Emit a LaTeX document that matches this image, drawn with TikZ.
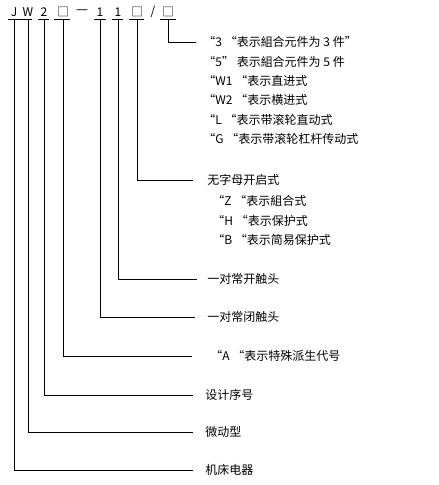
\documentclass[tikz,border=0pt]{standalone}
\usepackage{fontspec}
\setmainfont{Noto Sans CJK SC}
\newfontfamily\dashfont{DejaVu Sans}
\usepackage{tikz}
\tikzset{
	code/.style = {inner sep=0pt, font=\fontsize{12}{14}\selectfont},
	note/.style = {anchor=west, inner sep=0pt, font=\fontsize{12}{14}\selectfont},
}

\begin{document}
\begin{tikzpicture}[x=1pt, y=-1pt, line width=0.8pt]
		\useasboundingbox (0,0) rectangle (439,485);
		% code letters
		\node[code] (J) at (14,12) {J};
		\node[code] (W) at (28,12) {W};
		\node[code] (n2) at (44,12) {2};
		\node[code] (b1) at (63,12) {□};
		\node[code] (dash) at (82,12) {\dashfont —};
		\node[code] (o1) at (100,12) {1};
		\node[code] (o2) at (118,12) {1};
		\node[code] (b2) at (137,12) {□};
		\node[code] (slash) at (153,12) {/};
		\node[code] (b3) at (168,12) {□};
		% underlines
		\coordinate (ul) at (0,19);
		\draw (8,19) -- (32,19)
			(38,19) -- (49,19)
			(54,19) -- (70,19)
			(94,19) -- (106,19)
			(112,19) -- (123,19)
			(129,19) -- (144,19)
			(160,19) -- (176,19);
		% leader ends
		\coordinate (eb3) at (196,42);
		\coordinate (eb2) at (193,180);
		\coordinate (eo2) at (197,279);
		\coordinate (eo1) at (195,317);
		\coordinate (eb1) at (192,356);
		\coordinate (en2) at (193,395);
		\coordinate (eW) at (193,432);
		\coordinate (eJ) at (193,470);
		% leaders
		\draw (b3 |- ul) |- (eb3)
			(b2 |- ul) |- (eb2)
			(o2 |- ul) |- (eo2)
			(o1 |- ul) |- (eo1)
			(b1 |- ul) |- (eb1)
			(n2 |- ul) |- (en2)
			(W |- ul) |- (eW)
			(J |- ul) |- (eJ);
		% right hand labels
		\node[note] (t3) at (203,42) {“3 “表示組合元件为 3 件”};
		\node[note] (t5) at (203,62) {“5” 表示組合元件为 5 件};
		\node[note] (tW1) at (203,81) {“W1 “表示直进式};
		\node[note] (tW2) at (203,100) {“W2 “表示横进式};
		\node[note] (tL) at (203,120) {“L “表示带滚轮直动式};
		\node[note] (tG) at (203,139) {“G “表示带滚轮杠杆传动式};
		\node[note] (tnone) at (207,180) {无字母开启式};
		\node[note] (tZ) at (212,201) {“Z “表示組合式};
		\node[note] (tH) at (212,221) {“H “表示保护式};
		\node[note] (tB) at (212,240) {“B “表示简易保护式};
		\node[note] (tno) at (207,279) {一对常开触头};
		\node[note] (tnc) at (207,317) {一对常闭触头};
		\node[note] (tA) at (210,356) {“A “表示特殊派生代号};
		\node[note] (tseq) at (205,395) {设计序号};
		\node[note] (tmicro) at (205,432) {微动型};
		\node[note] (tmach) at (205,470) {机床电器};
	\end{tikzpicture}
\end{document}
